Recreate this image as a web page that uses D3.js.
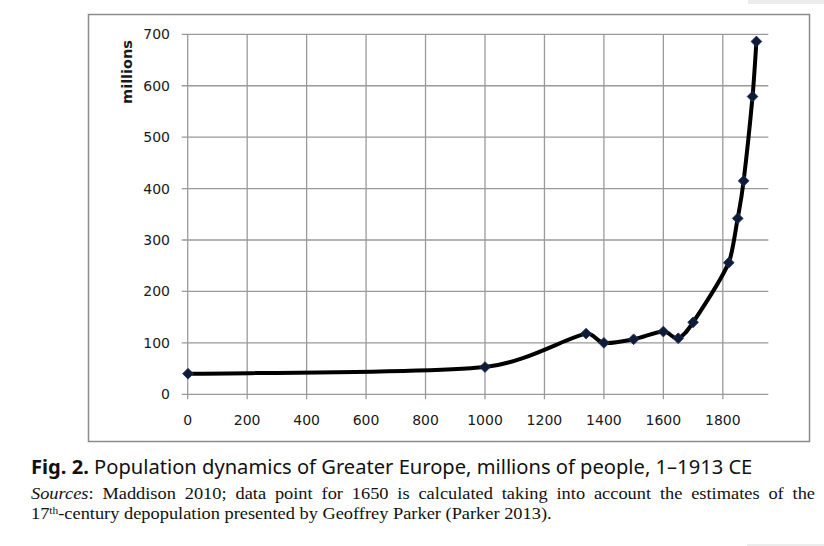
<!DOCTYPE html>
<html>
<head>
<meta charset="utf-8">
<script src="https://cdn.jsdelivr.net/npm/d3@7"></script>
<style>
  html, body { margin: 0; padding: 0; background: #fff; }
  svg { display: block; }
</style>
</head>
<body>
<svg id="chart" width="824" height="546"></svg>
<script>
// ---- data ----
const years = [1, 1000, 1340, 1400, 1500, 1600, 1650, 1700, 1820, 1850, 1870, 1900, 1913];
const population = [40, 53, 118, 100, 107, 122, 109, 140, 256, 342, 415, 579, 686];
const xTicks = [0, 200, 400, 600, 800, 1000, 1200, 1400, 1600, 1800];
const yTicks = [0, 100, 200, 300, 400, 500, 600, 700];
const yLabel = "millions";
const captionBold = "Fig. 2.";
const captionText = " Population dynamics of Greater Europe, millions of people, 1–1913 CE";
const sourceLine1 = ["Sources", ": Maddison 2010; data point for 1650 is calculated taking into account the estimates of the"];
const sourceLine2 = ["17", "th", "-century depopulation presented by Geoffrey Parker (Parker 2013)."];

const svg = d3.select("#chart");

// light page decorations
svg.append("rect").attr("x", 748).attr("y", 0).attr("width", 76).attr("height", 4).attr("fill", "#ececec");
svg.append("rect").attr("x", 747).attr("y", 544).attr("width", 77).attr("height", 2).attr("fill", "#ececec");

// chart frame
svg.append("rect")
  .attr("x", 88.5).attr("y", 14.5).attr("width", 721).attr("height", 427)
  .attr("fill", "#fff").attr("stroke", "#8c8c8c").attr("stroke-width", 1.5);

const x = d3.scaleLinear().domain([0, 1953]).range([187.7, 768.3]);
const y = d3.scaleLinear().domain([0, 700]).range([394.3, 34.3]);

const grid = "#9a9a9a";
svg.append("g").selectAll("line").data(yTicks).join("line")
  .attr("x1", x(0) - 6).attr("x2", x.range()[1])
  .attr("y1", d => y(d)).attr("y2", d => y(d))
  .attr("stroke", grid).attr("stroke-width", 1.3);
svg.append("g").selectAll("line").data(xTicks).join("line")
  .attr("x1", d => x(d)).attr("x2", d => x(d))
  .attr("y1", y(700)).attr("y2", y(0) + 5)
  .attr("stroke", grid).attr("stroke-width", 1.3);

// tick labels
const tickFont = "DejaVu Sans, Verdana, sans-serif";
svg.append("g").selectAll("text").data(yTicks).join("text")
  .attr("x", 170).attr("y", d => y(d) + 5)
  .attr("text-anchor", "end")
  .attr("font-family", tickFont).attr("font-size", 14).attr("fill", "#1a1a1a")
  .text(d => d);
svg.append("g").selectAll("text").data(xTicks).join("text")
  .attr("x", d => x(d)).attr("y", 425)
  .attr("text-anchor", "middle")
  .attr("font-family", tickFont).attr("font-size", 14).attr("fill", "#1a1a1a")
  .text(d => d);

// y label
svg.append("text")
  .attr("transform", "translate(132,72) rotate(-90)")
  .attr("text-anchor", "middle")
  .attr("font-family", tickFont).attr("font-size", 14.5).attr("font-weight", "bold")
  .attr("fill", "#1a1a1a")
  .text(yLabel);

// smoothed line (spreadsheet-style Bezier smoothing, control handles kept inside each segment)
const P = years.map((yr, i) => [x(yr), y(population[i])]);
function smoothPath(p) {
  const path = d3.path();
  path.moveTo(p[0][0], p[0][1]);
  for (let i = 0; i < p.length - 1; i++) {
    const p0 = p[Math.max(0, i - 1)], p1 = p[i], p2 = p[i + 1], p3 = p[Math.min(p.length - 1, i + 2)];
    const segDx = p2[0] - p1[0];
    let t1 = [(p2[0] - p0[0]) / 6, (p2[1] - p0[1]) / 6];
    let t2 = [(p3[0] - p1[0]) / 6, (p3[1] - p1[1]) / 6];
    const lim = segDx * 0.4;
    if (t1[0] > lim) { const k = lim / t1[0]; t1 = [t1[0] * k, t1[1] * k]; }
    if (t2[0] > lim) { const k = lim / t2[0]; t2 = [t2[0] * k, t2[1] * k]; }
    path.bezierCurveTo(p1[0] + t1[0], p1[1] + t1[1], p2[0] - t2[0], p2[1] - t2[1], p2[0], p2[1]);
  }
  return path.toString();
}
svg.append("path")
  .attr("d", smoothPath(P)).attr("fill", "none")
  .attr("stroke", "#000").attr("stroke-width", 4).attr("stroke-linejoin", "round");

// markers (rotated squares)
const pts = years.map((yr, i) => [yr, population[i]]);
const diamond = d3.symbol().type(d3.symbolSquare).size(58);
svg.append("g").selectAll("path").data(pts).join("path")
  .attr("transform", d => `translate(${x(d[0])},${y(d[1])}) rotate(45)`)
  .attr("d", diamond).attr("fill", "#0f1c38").attr("stroke", "#22345c").attr("stroke-width", 0.8);

// ---- caption ----
const capFont = "Noto Sans, Open Sans, sans-serif";
const cap = svg.append("text").attr("x", 31).attr("y", 474)
  .attr("font-family", capFont).attr("font-size", 18).attr("fill", "#111");
cap.append("tspan").attr("font-weight", "bold").text(captionBold);
cap.append("tspan").text(captionText);
{
  const w = cap.node().getComputedTextLength();
  cap.attr("font-size", 18 * 722 / w);
}

// ---- sources (serif), horizontally condensed to fit the reference widths ----
const serif = "Liberation Serif, Times New Roman, serif";
const fs = 16.5;
const g2 = svg.append("g");
const l2 = g2.append("text").attr("x", 0).attr("y", 0)
  .attr("font-family", serif).attr("font-size", fs).attr("fill", "#111");
l2.append("tspan").text(sourceLine2[0]);
l2.append("tspan").attr("dy", -5).attr("font-size", "0.62em").text(sourceLine2[1]);
l2.append("tspan").attr("dy", 5).text(sourceLine2[2]);
const sx = 521 / l2.node().getComputedTextLength();
g2.attr("transform", `translate(31,519) scale(${sx},1)`);

{
  const words = [];
  words.push({ t: sourceLine1[0] + ":", italicUntil: sourceLine1[0].length });
  sourceLine1[1].replace(/^:\s*/, "").split(" ").forEach(t => words.push({ t }));
  const g = svg.append("g").attr("font-family", serif).attr("font-size", fs).attr("fill", "#111")
    .attr("transform", `translate(31,499) scale(${sx},1)`);
  const nodes = words.map(wd => {
    const t = g.append("text").attr("y", 0);
    if (wd.italicUntil) {
      t.append("tspan").attr("font-style", "italic").text(wd.t.slice(0, wd.italicUntil));
      t.append("tspan").text(wd.t.slice(wd.italicUntil));
    } else {
      t.text(wd.t);
    }
    return t;
  });
  const widths = nodes.map(n => n.node().getComputedTextLength());
  const total = d3.sum(widths);
  const span = (815 - 31) / sx;
  const gap = (span - total) / (nodes.length - 1);
  let cx = 0;
  nodes.forEach((n, i) => { n.attr("x", cx); cx += widths[i] + gap; });
}
</script>
</body>
</html>
